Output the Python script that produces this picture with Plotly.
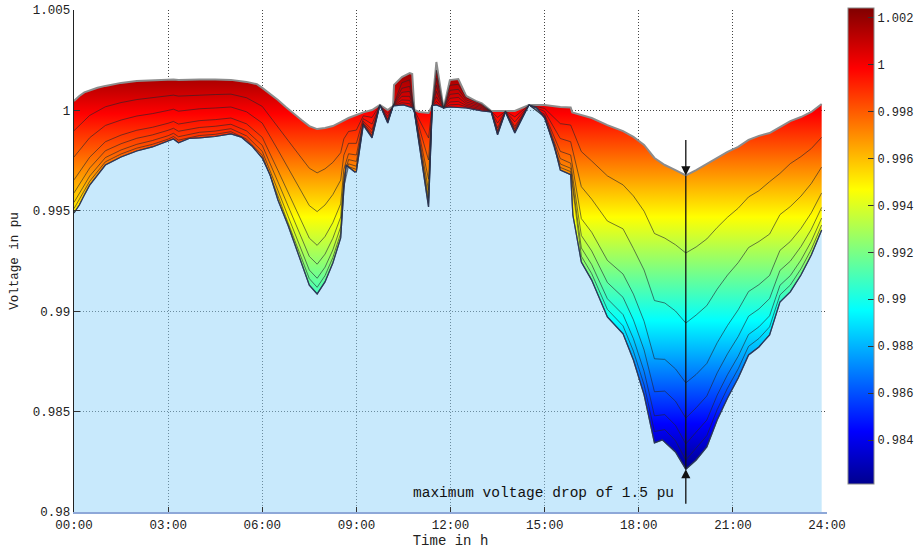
import numpy as np
import plotly.graph_objects as go

# ---------------- data ----------------
# upper envelope: highest node voltage over the day
upper_time = [0.0, 0.17, 0.33, 0.5, 0.75, 1.0, 1.5, 2.0, 2.5, 3.0, 3.17, 3.33, 3.5, 4.0, 4.5,
              5.0, 5.5, 5.83, 6.0, 6.25, 6.5, 6.75, 7.0, 7.25, 7.5, 7.75, 8.0, 8.25, 8.5, 8.75,
              9.0, 9.22, 9.5, 9.75, 10.0, 10.17, 10.2, 10.45, 10.7, 10.78, 10.85, 11.0, 11.3,
              11.42, 11.55, 11.78, 11.98, 12.25, 12.5, 12.8, 13.0, 13.3, 13.5, 13.75, 14.05,
              14.5, 15.0, 15.5, 15.83, 15.88, 16.17, 16.5, 17.0, 17.5, 17.83, 18.17, 18.5,
              18.83, 19.17, 19.5, 19.83, 20.17, 20.5, 20.83, 21.17, 21.5, 21.83, 22.17, 22.5,
              22.83, 23.17, 23.5, 23.83]
upper_volt = [1.00047, 1.00072, 1.00090, 1.00100, 1.00113, 1.00122, 1.00137, 1.00146, 1.00150,
              1.00155, 1.00154, 1.00152, 1.00153, 1.00154, 1.00154, 1.00152, 1.00142, 1.00131,
              1.00112, 1.00082, 1.00052, 1.00017, 0.99982, 0.99952, 0.99922, 0.99907, 0.99912,
              0.99922, 0.99942, 0.99962, 0.99977, 0.99990, 1.00002, 1.00027, 1.00002, 1.00022,
              1.00127, 1.00166, 1.00186, 1.00181, 1.00002, 0.99992, 0.99987, 1.00024, 1.00241,
              1.00010, 1.00151, 1.00156, 1.00072, 1.00047, 1.00035, 0.99997, 0.99997, 0.99997,
              0.99997, 1.00027, 1.00027, 1.00017, 1.00015, 0.99990, 0.99977, 0.99962, 0.99927,
              0.99897, 0.99868, 0.99828, 0.99763, 0.99728, 0.99703, 0.99676, 0.99703, 0.99733,
              0.99763, 0.99793, 0.99818, 0.99853, 0.99873, 0.99887, 0.99917, 0.99947, 0.99967,
              0.99992, 1.00032]

# lower envelope: lowest node voltage over the day
lower_time = [0.0, 0.17, 0.33, 0.5, 0.75, 1.0, 1.5, 2.0, 2.5, 3.0, 3.17, 3.33, 3.67, 4.0, 4.5,
              5.0, 5.33, 5.67, 6.0, 6.25, 6.5, 6.83, 7.17, 7.5, 7.75, 8.0, 8.25, 8.5, 8.6, 8.67,
              8.95, 9.0, 9.22, 9.5, 9.75, 10.0, 10.17, 10.5, 10.8, 10.85, 11.3, 11.42, 11.55,
              11.78, 11.98, 12.5, 13.0, 13.3, 13.5, 13.75, 14.05, 14.5, 14.75, 15.0, 15.3, 15.5,
              15.83, 15.9, 16.17, 16.5, 17.0, 17.5, 17.83, 18.17, 18.5, 18.75, 19.17, 19.5,
              19.83, 20.17, 20.5, 20.83, 21.17, 21.5, 21.83, 22.17, 22.5, 22.83, 23.17, 23.5,
              23.83]
lower_volt = [0.99489, 0.99529, 0.99579, 0.99628, 0.99678, 0.99728, 0.99768, 0.99798, 0.99818,
              0.99845, 0.99858, 0.99839, 0.99860, 0.99863, 0.99870, 0.99883, 0.99867, 0.99823,
              0.99763, 0.99678, 0.99554, 0.99424, 0.99270, 0.99130, 0.99086, 0.99146, 0.99240,
              0.99365, 0.99604, 0.99728, 0.99693, 0.99695, 0.99927, 0.99863, 1.00027, 0.99937,
              1.00022, 1.00027, 1.00012, 0.99990, 0.99519, 1.00024, 1.00027, 1.00012, 1.00017,
              1.00012, 0.99997, 0.99992, 0.99878, 0.99992, 0.99888, 1.00027, 1.00012, 0.99962,
              0.99828, 0.99703, 0.99680, 0.99479, 0.99245, 0.99155, 0.98971, 0.98887, 0.98757,
              0.98583, 0.98344, 0.98359, 0.98299, 0.98213, 0.98259, 0.98324, 0.98458, 0.98568,
              0.98667, 0.98782, 0.98822, 0.98882, 0.99046, 0.99096, 0.99180, 0.99280, 0.99404]

# intermediate feeder nodes
node_time = [0.0, 0.5, 1.0, 1.5, 2.0, 2.5, 3.0, 3.17, 3.33, 4.0, 4.5, 5.0, 5.5, 6.0, 6.5, 7.0,
             7.5, 7.75, 8.0, 8.25, 8.5, 8.6, 8.75, 9.0, 9.22, 9.5, 9.75, 10.0, 10.17, 10.45,
             10.7, 10.85, 11.3, 11.42, 11.55, 11.78, 11.98, 12.25, 12.5, 13.0, 13.3, 13.5,
             13.75, 14.05, 14.5, 15.0, 15.5, 15.83, 16.17, 16.5, 17.0, 17.5, 17.83, 18.17,
             18.5, 18.83, 19.17, 19.5, 19.83, 20.17, 20.5, 20.83, 21.17, 21.5, 21.83, 22.17,
             22.5, 22.83, 23.17, 23.5, 23.83]
node_2 = [0.99899, 0.99975, 1.00018, 1.00039, 1.00054, 1.00062, 1.00073, 1.00076, 1.00071, 1.00077,
          1.00079, 1.00081, 1.00063, 1.00020, 0.99920, 0.99814, 0.99712, 0.99689, 0.99709, 0.99741,
          0.99789, 0.99858, 0.99895, 0.99902, 0.99973, 0.99965, 1.00027, 0.99985, 1.00022, 1.00138,
          1.00152, 1.00000, 0.99863, 1.00024, 1.00200, 1.00011, 1.00125, 1.00130, 1.00062, 1.00030,
          0.99996, 0.99965, 0.99996, 0.99968, 1.00027, 1.00010, 0.99934, 0.99927, 0.99795, 0.99748,
          0.99674, 0.99629, 0.99574, 0.99498, 0.99387, 0.99364, 0.99331, 0.99290, 0.99320, 0.99360,
          0.99417, 0.99468, 0.99513, 0.99569, 0.99600, 0.99645, 0.99686, 0.99735, 0.99770, 0.99810,
          0.99866]
node_3 = [0.99768, 0.99864, 0.99925, 0.99952, 0.99972, 0.99984, 1.00000, 1.00006, 0.99996, 1.00008,
          1.00012, 1.00017, 0.99993, 0.99937, 0.99803, 0.99664, 0.99526, 0.99496, 0.99529, 0.99581,
          0.99653, 0.99777, 0.99836, 0.99836, 0.99959, 0.99932, 1.00027, 0.99970, 1.00022, 1.00110,
          1.00120, 0.99998, 0.99753, 1.00024, 1.00160, 1.00011, 1.00100, 1.00105, 1.00052, 1.00025,
          0.99995, 0.99937, 0.99995, 0.99943, 1.00027, 0.99995, 0.99860, 0.99844, 0.99620, 0.99558,
          0.99449, 0.99410, 0.99312, 0.99205, 0.99053, 0.99041, 0.99001, 0.98941, 0.98981, 0.99028,
          0.99110, 0.99180, 0.99242, 0.99317, 0.99347, 0.99384, 0.99481, 0.99521, 0.99573, 0.99636,
          0.99718]
node_4 = [0.99654, 0.99767, 0.99844, 0.99877, 0.99901, 0.99916, 0.99936, 0.99945, 0.99932, 0.99949,
          0.99954, 0.99962, 0.99933, 0.99866, 0.99701, 0.99534, 0.99364, 0.99328, 0.99372, 0.99441,
          0.99535, 0.99706, 0.99784, 0.99778, 0.99946, 0.99904, 1.00027, 0.99956, 1.00022, 1.00090,
          1.00095, 0.99996, 0.99657, 1.00024, 1.00125, 1.00011, 1.00080, 1.00085, 1.00042, 1.00020,
          0.99994, 0.99913, 0.99994, 0.99920, 1.00027, 0.99981, 0.99796, 0.99778, 0.99461, 0.99393,
          0.99253, 0.99185, 0.99085, 0.98950, 0.98763, 0.98760, 0.98713, 0.98643, 0.98685, 0.98740,
          0.98843, 0.98929, 0.99007, 0.99098, 0.99132, 0.99178, 0.99303, 0.99347, 0.99412, 0.99490,
          0.99589]
node_5 = [0.99589, 0.99713, 0.99799, 0.99834, 0.99861, 0.99878, 0.99901, 0.99911, 0.99896, 0.99915,
          0.99921, 0.99931, 0.99898, 0.99826, 0.99644, 0.99461, 0.99273, 0.99234, 0.99284, 0.99363,
          0.99469, 0.99666, 0.99755, 0.99746, 0.99938, 0.99888, 1.00027, 0.99949, 1.00022, 1.00070,
          1.00070, 0.99994, 0.99603, 1.00024, 1.00095, 1.00011, 1.00060, 1.00065, 1.00033, 1.00014,
          0.99993, 0.99899, 0.99993, 0.99908, 1.00027, 0.99974, 0.99760, 0.99737, 0.99377, 0.99300,
          0.99143, 0.99069, 0.98957, 0.98807, 0.98599, 0.98602, 0.98552, 0.98468, 0.98519, 0.98578,
          0.98693, 0.98788, 0.98874, 0.98975, 0.99011, 0.99063, 0.99203, 0.99249, 0.99322, 0.99408,
          0.99517]
node_6 = [0.99542, 0.99673, 0.99765, 0.99803, 0.99831, 0.99850, 0.99874, 0.99886, 0.99869, 0.99891,
          0.99897, 0.99909, 0.99873, 0.99796, 0.99601, 0.99407, 0.99205, 0.99164, 0.99219, 0.99305,
          0.99420, 0.99637, 0.99734, 0.99722, 0.99933, 0.99876, 1.00027, 0.99943, 1.00022, 1.00052,
          1.00050, 0.99992, 0.99563, 1.00024, 1.00068, 1.00011, 1.00042, 1.00045, 1.00025, 1.00008,
          0.99993, 0.99889, 0.99993, 0.99898, 1.00027, 0.99968, 0.99733, 0.99712, 0.99315, 0.99232,
          0.99062, 0.98983, 0.98863, 0.98701, 0.98479, 0.98485, 0.98432, 0.98339, 0.98396, 0.98458,
          0.98582, 0.98684, 0.98776, 0.98884, 0.98922, 0.98977, 0.99129, 0.99177, 0.99255, 0.99348,
          0.99464]
node_7 = [0.99511, 0.99647, 0.99744, 0.99783, 0.99812, 0.99831, 0.99857, 0.99870, 0.99852, 0.99875,
          0.99881, 0.99894, 0.99857, 0.99777, 0.99574, 0.99372, 0.99162, 0.99119, 0.99177, 0.99267,
          0.99388, 0.99618, 0.99720, 0.99706, 0.99930, 0.99869, 1.00027, 0.99940, 1.00022, 1.00038,
          1.00033, 0.99991, 0.99538, 1.00024, 1.00045, 1.00011, 1.00028, 1.00030, 1.00018, 1.00002,
          0.99992, 0.99883, 0.99992, 0.99892, 1.00027, 0.99965, 0.99716, 0.99695, 0.99274, 0.99187,
          0.99009, 0.98927, 0.98801, 0.98633, 0.98401, 0.98410, 0.98355, 0.98259, 0.98317, 0.98380,
          0.98510, 0.98617, 0.98713, 0.98825, 0.98864, 0.98922, 0.99081, 0.99130, 0.99211, 0.99308,
          0.99429]

hour_ticks = [0, 3, 6, 9, 12, 15, 18, 21, 24]
hour_labels = ["00:00", "03:00", "06:00", "09:00", "12:00", "15:00", "18:00", "21:00", "24:00"]
volt_ticks = [0.98, 0.985, 0.99, 0.995, 1.0, 1.005]
volt_labels = ["0.98", "0.985", "0.99", "0.995", "1", "1.005"]
cbar_ticks = [0.984, 0.986, 0.988, 0.99, 0.992, 0.994, 0.996, 0.998, 1.0, 1.002]
cbar_labels = ["0.984", "0.986", "0.988", "0.99", "0.992", "0.994", "0.996", "0.998", "1", "1.002"]
annotation_text = "maximum voltage drop of 1.5 pu"

# ---------------- styling ----------------
FONT = "Courier New, Liberation Mono, monospace"
jet = [[0.0, "rgb(0,0,143)"], [0.111, "rgb(0,0,255)"], [0.365, "rgb(0,255,255)"],
       [0.619, "rgb(255,255,0)"], [0.873, "rgb(255,0,0)"], [1.0, "rgb(128,0,0)"]]

vmin = min(lower_volt)
vmax = max(upper_volt)

fig = go.Figure()

# light blue area below the lowest voltage
fig.add_trace(go.Scatter(
    x=lower_time, y=lower_volt, mode="lines",
    line=dict(color="rgba(40,52,85,0.8)", width=1.2),
    fill="tozeroy", fillcolor="rgba(145,211,249,0.5)",
    hoverinfo="skip", showlegend=False))

# voltage band coloured by voltage (jet)
fig.add_trace(go.Scatter(
    x=upper_time, y=upper_volt, mode="lines",
    line=dict(color="#8c8c8c", width=2),
    fill="tonexty",
    fillgradient=dict(type="vertical", colorscale=jet, start=vmin, stop=vmax),
    hoverinfo="skip", showlegend=False))

for node in [node_2, node_3, node_4, node_5, node_6, node_7]:
    fig.add_trace(go.Scatter(
        x=node_time, y=node, mode="lines",
        line=dict(color="rgba(35,35,45,0.6)", width=1),
        hoverinfo="skip", showlegend=False))

fig.add_trace(go.Scatter(
    x=lower_time, y=lower_volt, mode="lines",
    line=dict(color="rgba(40,52,85,0.85)", width=1.2),
    hoverinfo="skip", showlegend=False))

# colour bar
fig.add_trace(go.Scatter(
    x=[None], y=[None], mode="markers", showlegend=False, hoverinfo="skip",
    marker=dict(colorscale=jet, cmin=vmin, cmax=vmax, color=[vmin], showscale=True,
                colorbar=dict(x=1.028, xanchor="left", xpad=0, ypad=0,
                              y=1.004, yanchor="top", len=0.948, lenmode="fraction",
                              thickness=26, outlinecolor="#888", outlinewidth=1,
                              tickvals=cbar_ticks, ticktext=cbar_labels,
                              ticks="inside", ticklen=6, tickcolor="#333",
                              tickfont=dict(family=FONT, size=12, color="#222")))))

# maximum voltage drop marker
i_drop = int(np.argmin(lower_volt))
t_drop = lower_time[i_drop]
v_low = lower_volt[i_drop]
v_up = float(np.interp(t_drop, upper_time, upper_volt))

fig.add_shape(type="line", x0=t_drop, x1=t_drop, y0=v_low, y1=v_up,
              line=dict(color="#111", width=1.3), layer="above")
fig.add_annotation(x=t_drop, y=v_up, ax=0, ay=-37, text="", showarrow=True,
                   arrowhead=2, arrowsize=1.4, arrowwidth=1.3, arrowcolor="#111")
fig.add_annotation(x=t_drop, y=v_low, ax=0, ay=36, text="", showarrow=True,
                   arrowhead=2, arrowsize=1.4, arrowwidth=1.3, arrowcolor="#111")
fig.add_annotation(x=t_drop, y=v_low, text=annotation_text, showarrow=False,
                   xanchor="right", yanchor="middle", xshift=-10, yshift=-24,
                   font=dict(family=FONT, size=14.5, color="#111"))

fig.update_layout(
    width=915, height=552,
    margin=dict(l=74, r=88, t=10, b=40, autoexpand=False),
    paper_bgcolor="white", plot_bgcolor="white",
    font=dict(family=FONT, size=12, color="#222"),
    showlegend=False, hovermode=False,
)
fig.update_xaxes(
    range=[0, 24], tickvals=hour_ticks, ticktext=hour_labels,
    showgrid=True, gridcolor="#444", griddash="1px,2px", gridwidth=1,
    zeroline=False, showline=True, linecolor="#8ea8d8", linewidth=1.5,
    ticks="inside", ticklen=5, tickcolor="#333",
    tickfont=dict(family=FONT, size=12.5, color="#222"),
    title=dict(text="Time in h", font=dict(family=FONT, size=14, color="#222"), standoff=3),
    automargin=False, ticklabeloverflow="allow",
)
fig.update_yaxes(
    range=[0.98, 1.005], tickvals=volt_ticks, ticktext=volt_labels,
    showgrid=True, gridcolor="#444", griddash="1px,2px", gridwidth=1,
    zeroline=False, showline=True, linecolor="#222", linewidth=1.3,
    ticks="inside", ticklen=6, tickcolor="#333",
    tickfont=dict(family=FONT, size=12.5, color="#222"),
    title=dict(text="Voltage in pu", font=dict(family=FONT, size=12.5, color="#222"), standoff=11),
    automargin=False, ticklabeloverflow="allow",
)

# remove the default 8 px page margin so the figure fills the 915x552 window exactly
fig.write_html("out.html", config={"displayModeBar": False},
               post_script="document.body.style.margin='0';document.body.style.overflow='hidden';")
